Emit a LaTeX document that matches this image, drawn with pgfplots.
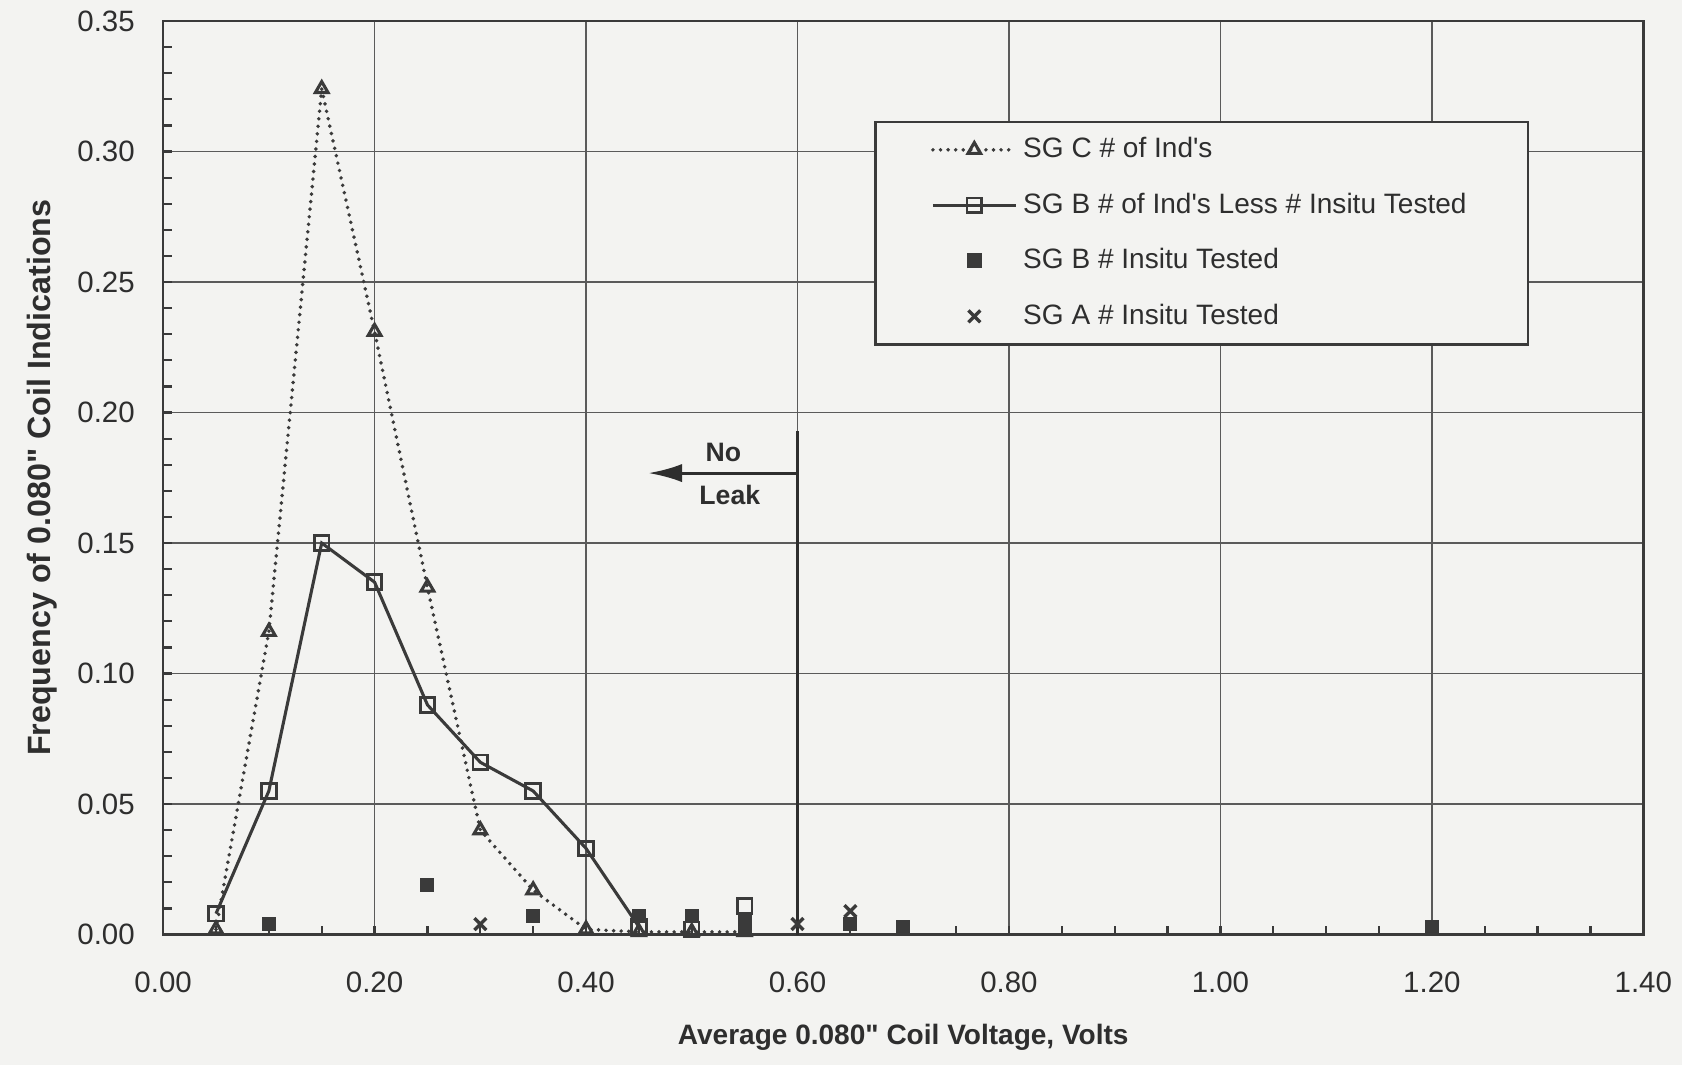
\documentclass[border=0pt]{standalone}
\usepackage{fontspec}
\setmainfont{Liberation Sans}
\usepackage{xcolor}
\usepackage{pgfplots}
\pgfplotsset{compat=1.18}
\usetikzlibrary{arrows.meta}
\definecolor{bgc}{HTML}{F3F3F1}
\definecolor{ink}{HTML}{3A3A3A}
\definecolor{gridc}{HTML}{5A5A5A}
\definecolor{txt}{HTML}{2E2E2E}
\newcommand{\inch}{\textquotedbl}
\newcommand{\ap}{\textquotesingle}

\begin{document}
\pagecolor{bgc}
\begin{tikzpicture}
\begin{axis}[
  scale only axis,
  width=527.9pt, height=325.8pt,
  xmin=0, xmax=1.4, ymin=0, ymax=0.35,
  xtick distance=0.2, ytick distance=0.05,
  minor x tick num=3, minor y tick num=4,
  tick pos=left, tick align=inside,
  major tick length=3.2pt, minor tick length=3.2pt,
  every tick/.style={ink, line width=0.8pt},
  grid=major,
  major grid style={gridc, line width=0.6pt},
  axis line style={ink, line width=0.9pt},
  /pgf/number format/.cd, fixed, fixed zerofill, precision=2, assume math mode=true,
  /pgfplots/.cd,
  ticklabel style={font=\fontsize{10.5}{12}\selectfont, text=txt},
  yticklabel style={xshift=-6.6pt},
  xticklabel style={yshift=-9.8pt},
  xlabel={\bfseries Average 0.080\inch{} Coil Voltage, Volts},
  ylabel={\bfseries Frequency of 0.080\inch{} Coil Indications},
  xlabel style={at={(axis description cs:0.5,-0.1122)}, anchor=center, font=\fontsize{10}{12}\selectfont, text=txt},
  ylabel style={at={(axis description cs:-0.0814,0.5)}, anchor=center, font=\fontsize{11.5}{13}\selectfont, text=txt},
  legend image code/.code={\draw[mark repeat=2,mark phase=2,#1] plot coordinates {(0pt,0pt)(14.75pt,0pt)(29.5pt,0pt)};},
  legend style={at={(axis description cs:0.4805,0.8911)}, anchor=north west,
    draw=ink, line width=0.8pt, fill=bgc,
    font=\fontsize{10}{12}\selectfont, text=txt,
    inner xsep=19.8pt, inner ysep=3.3pt, row sep=6.3pt,
    nodes={inner sep=2pt, text height=7.5pt, text depth=2pt}},
  legend cell align=left,
]
% SG C # of Ind's
\addplot[ink, line width=1.4pt, dash pattern=on 0pt off 2.7pt, line cap=round,
  mark=triangle, mark size=2.6pt, mark options={solid, line width=1.1pt}]
  coordinates {(0.05,0.002)(0.10,0.116)(0.15,0.324)(0.20,0.231)(0.25,0.133)(0.30,0.040)
               (0.35,0.017)(0.40,0.002)(0.45,0.001)(0.50,0.001)(0.55,0.001)};
% SG B # of Ind's less # insitu tested
\addplot[ink, line width=1.1pt, mark=square, mark size=2.6pt, mark options={line width=1pt}]
  coordinates {(0.05,0.008)(0.10,0.055)(0.15,0.150)(0.20,0.135)(0.25,0.088)(0.30,0.066)
               (0.35,0.055)(0.40,0.033)(0.45,0.003)};
% SG B # insitu tested
\addplot[only marks, ink, mark=square*, mark size=2.3pt]
  coordinates {(0.10,0.004)(0.25,0.019)(0.35,0.007)(0.45,0.007)(0.50,0.007)(0.55,0.006)
               (0.55,0.003)(0.65,0.004)(0.70,0.003)(1.20,0.003)};
% SG A # insitu tested
\addplot[only marks, ink, mark=x, mark size=3pt, mark options={line width=1.2pt}]
  coordinates {(0.30,0.004)(0.60,0.004)(0.65,0.009)};
% loose SG B points with no line
\addplot[only marks, ink, mark=square, mark size=2.6pt, mark options={line width=1pt}, forget plot]
  coordinates {(0.50,0.002)(0.55,0.011)};
% no-leak limit and arrow
\addplot[txt, line width=1.1pt, forget plot] coordinates {(0.6,0) (0.6,0.1931)};
\addplot[txt, line width=1.1pt, -{Latex[length=12pt,width=6.5pt]}, forget plot]
  coordinates {(0.6,0.1768) (0.459,0.1768)};
\node[font=\bfseries\fontsize{9.5}{11}\selectfont, text=txt] at (axis cs:0.530,0.1846) {No};
\node[font=\bfseries\fontsize{9.5}{11}\selectfont, text=txt] at (axis cs:0.536,0.1686) {Leak};
\legend{SG C \# of Ind\ap s, SG B \# of Ind\ap s Less \# Insitu Tested, SG B \# Insitu Tested, SG A \# Insitu Tested}
\end{axis}
\pgfresetboundingbox
\path[use as bounding box] ([xshift=-55.4pt,yshift=-46.4pt]current axis.south west)
  rectangle ([xshift=13.8pt,yshift=7.5pt]current axis.north east);
\end{tikzpicture}
\end{document}
